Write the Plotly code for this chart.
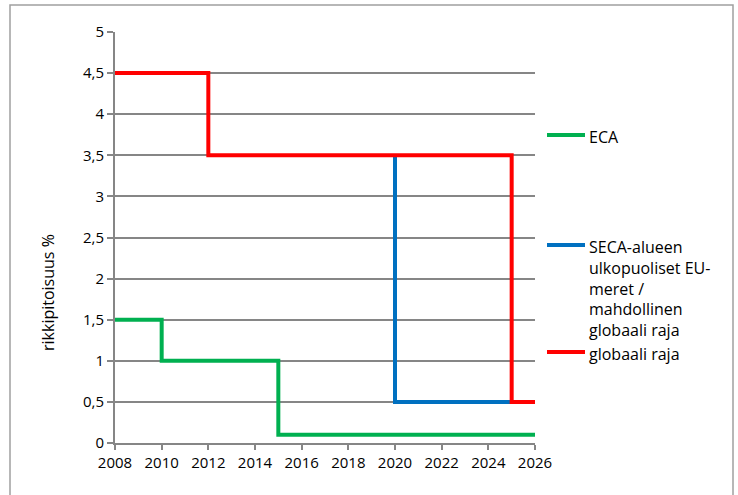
import plotly.graph_objects as go

# Data
eca_years = [2008, 2010, 2015, 2026]
eca_values = [1.5, 1.0, 0.1, 0.1]
seca_years = [2020, 2025]
seca_values = [3.5, 0.5]
global_years = [2008, 2012, 2025, 2026]
global_values = [4.5, 3.5, 0.5, 0.5]

series_names = ["ECA",
                "SECA-alueen<br>ulkopuoliset EU-<br>meret /<br>mahdollinen<br>globaali raja",
                "globaali raja"]
colors = ["#00B050", "#0070C0", "#FF0000"]
y_title = "rikkipitoisuus %"

FONT = "Open Sans"
W, H = 738, 495
L, R, T, B = 115, 535, 32, 443

fig = go.Figure()
fig.add_trace(go.Scatter(x=eca_years, y=eca_values, mode="lines", line_shape="hv",
                         line=dict(color=colors[0], width=4), showlegend=False))
fig.add_trace(go.Scatter(x=seca_years, y=seca_values, mode="lines", line_shape="vh",
                         line=dict(color=colors[1], width=4), showlegend=False))
fig.add_trace(go.Scatter(x=global_years, y=global_values, mode="lines", line_shape="hv",
                         line=dict(color=colors[2], width=4), showlegend=False))

def px(x):
    return (x - L) / (R - L)

def py(y):
    return (B - y) / (B - T)

shapes = [dict(type="rect", xref="paper", yref="paper",
               x0=px(10), x1=px(733), y0=py(505), y1=py(5),
               line=dict(color="#A0A0A0", width=1.5), layer="below")]
annotations = []
legend_y = [135, 245, 352]
for name, c, ly in zip(series_names, colors, legend_y):
    shapes.append(dict(type="line", xref="paper", yref="paper",
                       x0=px(547), x1=px(585), y0=py(ly), y1=py(ly),
                       line=dict(color=c, width=4)))
    annotations.append(dict(xref="paper", yref="paper", x=px(587), y=py(ly - 11),
                            text=name, showarrow=False, xanchor="left", yanchor="top",
                            align="left", font=dict(family=FONT, size=16, color="#000")))
annotations.append(dict(xref="paper", yref="paper", x=px(48), y=py(293),
                        text=y_title, textangle=-90, showarrow=False,
                        xanchor="center", yanchor="middle",
                        font=dict(family=FONT, size=16, color="#000")))

fig.update_layout(
    width=W, height=H,
    margin=dict(l=L, r=W - R, t=T, b=H - B, pad=0),
    paper_bgcolor="white", plot_bgcolor="white",
    separators=", ",
    font=dict(family=FONT, size=15, color="#000"),
    shapes=shapes, annotations=annotations,
    xaxis=dict(range=[2008, 2026], dtick=2, tick0=2008, showgrid=False,
               showline=True, linecolor="#868686", linewidth=2,
               ticks="outside", ticklen=5, tickcolor="#868686", tickwidth=1.5,
               zeroline=False, tickfont=dict(size=15)),
    yaxis=dict(range=[0, 5], dtick=0.5, tick0=0, showgrid=True,
               gridcolor="#868686", gridwidth=1.5,
               showline=True, linecolor="#868686", linewidth=2,
               ticks="outside", ticklen=6, tickcolor="#868686", tickwidth=1.5,
               zeroline=False, tickfont=dict(size=15)),
)

fig.write_html("out.html")
